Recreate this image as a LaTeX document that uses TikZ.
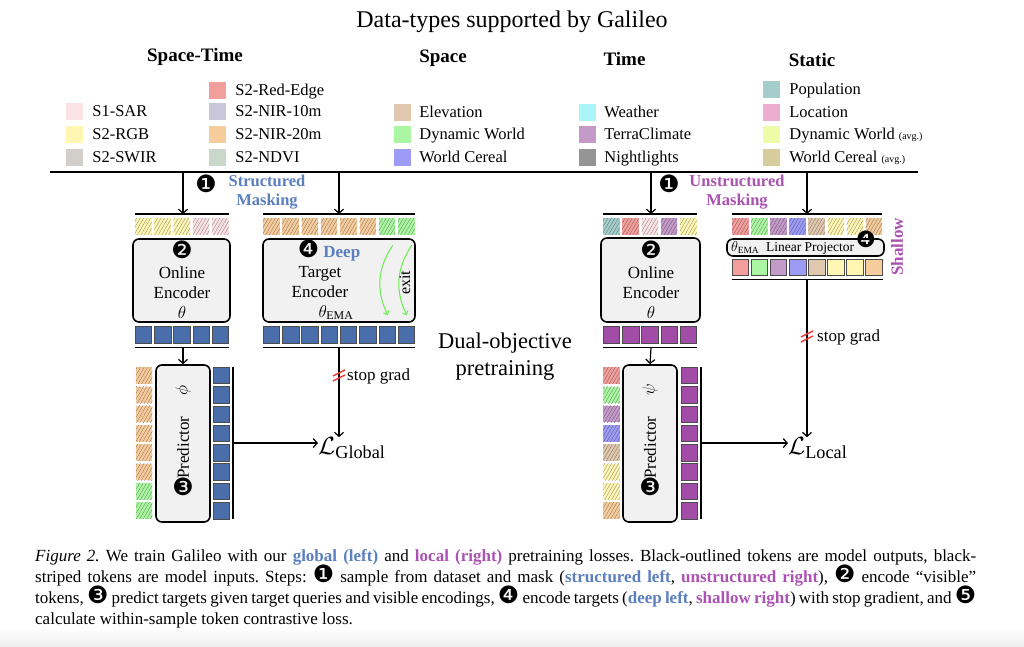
\documentclass[tikz,border=0pt]{standalone}
\usepackage{fontspec}
\usepackage{amsmath}
\setmainfont{Liberation Serif}
\newfontfamily\dingfont[Scale=1.4]{DejaVu Sans}
\usetikzlibrary{positioning,arrows.meta,patterns.meta,calc}

\definecolor{cSAR}{HTML}{FBE2E4}
\definecolor{cRGB}{HTML}{FFF6B4}
\definecolor{cSWIR}{HTML}{D2CECA}
\definecolor{cRED}{HTML}{F29E9C}
\definecolor{cNIRten}{HTML}{C8C6D8}
\definecolor{cNIRtw}{HTML}{F6CC9C}
\definecolor{cNDVI}{HTML}{C9D8CA}
\definecolor{cELEV}{HTML}{E0C8AE}
\definecolor{cDW}{HTML}{AAF6A2}
\definecolor{cWC}{HTML}{9C9CF6}
\definecolor{cWEA}{HTML}{ABF4F8}
\definecolor{cTERRA}{HTML}{C49AC8}
\definecolor{cNIGHT}{HTML}{959595}
\definecolor{cPOP}{HTML}{A5CDCC}
\definecolor{cLOC}{HTML}{ECAED0}
\definecolor{cDWavg}{HTML}{EEFBA8}
\definecolor{cWCavg}{HTML}{D6CC9C}
\definecolor{tokblue}{HTML}{4A6EA9}
\definecolor{tokpurple}{HTML}{A14CA6}
\definecolor{txtblue}{HTML}{5B7FBF}
\definecolor{txtpurple}{HTML}{AC52B2}
\definecolor{boxgray}{HTML}{F1F1F1}
\definecolor{exitgreen}{HTML}{66EE4A}
\definecolor{gradred}{HTML}{EE3B33}

\newcommand{\circnum}[1]{\smash{\dingfont\char\numexpr"2775+#1\relax}}
\newcommand{\globtxt}[1]{\textcolor{txtblue}{\bfseries #1}}
\newcommand{\loctxt}[1]{\textcolor{txtpurple}{\bfseries #1}}
\newcommand{\avgtag}{{\fontsize{10}{12}\selectfont(avg.)}}

\begin{document}
\begin{tikzpicture}[x=1pt, y=-1pt,
    >={Straight Barb[length=4pt,width=9pt]},
    legsq/.style={fill=#1, minimum size=17pt, inner sep=0pt},
    legtxt/.style={font=\fontsize{16.5}{19}\selectfont, inner sep=0pt, text height=11pt, text depth=1pt},
    heading/.style={font=\fontsize{19}{22}\selectfont\bfseries, inner sep=0pt},
    tok/.style={minimum size=16.5pt, inner sep=0pt},
    intok/.style={tok, fill=#1, postaction={pattern={Lines[angle=60,distance=3pt,line width=.4pt]}, pattern color=#1!60!black}},
    outtok/.style={tok, fill=#1, draw=black!70, line width=.6pt},
    encbox/.style={draw, line width=1.6pt, rounded corners=6pt, fill=boxgray, inner sep=0pt},
    enctxt/.style={font=\fontsize{17}{20}\selectfont, align=center, inner sep=0pt},
    masktxt/.style={font=\fontsize{16.5}{18.5}\selectfont\bfseries, align=center, inner sep=0pt},
    sgtxt/.style={font=\fontsize{17}{20}\selectfont, inner sep=0pt},
    losstxt/.style={font=\fontsize{26}{28}\selectfont, inner sep=0pt},
    bar/.style={line width=1.2pt},
    conn/.style={line width=1.2pt, ->},
    stopmark/.style={gradred, line width=1.5pt}]

  \fill[white] (0,0) rectangle (1024,647);
  \useasboundingbox (0,0) rectangle (1024,647);

  % title and data types
  \node[font=\fontsize{24}{28}\selectfont] (title) at (512,22) {Data-types supported by Galileo};
  \node[heading] (hST) at (195,57) {Space-Time};
  \node[heading] (hSp) at (443,58) {Space};
  \node[heading] (hTi) at (624.5,59) {Time};
  \node[heading] (hSt) at (812,60) {Static};

  \foreach \c/\t/\y [count=\i] in {cSAR/S1-SAR/112, cRGB/S2-RGB/135, cSWIR/S2-SWIR/157.5} {
    \node[legsq=\c] (stA\i) at (74.5,\y) {};
    \node[legtxt, right=9pt of stA\i] {\t};
  }
  \foreach \c/\t/\y [count=\i] in {cRED/S2-Red-Edge/90.5, cNIRten/S2-NIR-10m/112, cNIRtw/S2-NIR-20m/135, cNDVI/S2-NDVI/158} {
    \node[legsq=\c] (stB\i) at (217.5,\y) {};
    \node[legtxt, right=9pt of stB\i] {\t};
  }
  \foreach \c/\t/\y [count=\i] in {cELEV/Elevation/112.5, cDW/Dynamic World/135, cWC/World Cereal/157.5} {
    \node[legsq=\c] (sp\i) at (402.5,\y) {};
    \node[legtxt, right=8pt of sp\i] {\t};
  }
  \foreach \c/\t/\y [count=\i] in {cWEA/Weather/112.5, cTERRA/TerraClimate/135, cNIGHT/Nightlights/157.5} {
    \node[legsq=\c] (ti\i) at (587.5,\y) {};
    \node[legtxt, right=8pt of ti\i] {\t};
  }
  \foreach \c/\t/\y [count=\i] in {cPOP/Population/90, cLOC/Location/113, cDWavg/Dynamic World \avgtag/135, cWCavg/World Cereal \avgtag/158} {
    \node[legsq=\c] (sta\i) at (771.5,\y) {};
    \node[legtxt, right=9pt of sta\i] {\t};
  }

  % dataset line and masking
  \coordinate (topW) at (50,172);
  \coordinate (topE) at (918,172);
  \draw[bar] (topW) -- (topE);

  \coordinate (inLtop) at (183,214);
  \coordinate (inTtop) at (339,214);
  \coordinate (inRtop) at (651,214);
  \coordinate (inPtop) at (807,214);
  \foreach \p in {inLtop,inTtop,inRtop,inPtop}
    \draw[conn] (\p |- topW) -- (\p);

  \node[enctxt] (oneL) at (206,193) {\circnum1};
  \node[masktxt, text=txtblue] (maskL) at (267,192) {Structured\\Masking};
  \node[enctxt] (oneR) at (669,193) {\circnum1};
  \node[masktxt, text=txtpurple] (maskR) at (737,192) {Unstructured\\Masking};

  % global (left)
  \foreach \c [count=\i] in {cRGB,cRGB,cRGB,cSAR,cSAR}
    \node[intok=\c] (inL\i) at ({143.25+19.3*(\i-1)},226.5) {};
  \draw[bar] (inL1.west |- inLtop) -- (inL5.east |- inLtop);
  \foreach \c [count=\i] in {cNIRtw,cNIRtw,cNIRtw,cNIRtw,cNIRtw,cNIRtw,cDW,cDW}
    \node[intok=\c] (inT\i) at ({271.25+19.3*(\i-1)},226.5) {};
  \draw[bar] (inT1.west |- inTtop) -- (inT8.east |- inTtop);

  \node[encbox, minimum width=97pt, minimum height=83pt] (onlL) at (181.5,280.5) {};
  \node[enctxt, anchor=base] at (182,318) {\circnum2\\Online\\Encoder\\$\theta$};
  \node[encbox, minimum width=152pt, minimum height=83pt] (tgtL) at (339,280.5) {};
  \node[enctxt, anchor=base] at (320,317) {\hspace*{18pt}\circnum4 \textcolor{txtblue}{\bfseries Deep}\\Target\\Encoder\\\hspace*{32pt}$\theta_{\text{EMA}}$};
  \draw[exitgreen, line width=1pt, -{Straight Barb[length=3pt,width=6pt]}]
    ($(tgtL.north east)+(-23,7)$) to[bend right=30] ($(tgtL.north east)+(-28,77)$);
  \draw[exitgreen, line width=1pt, -{Straight Barb[length=3pt,width=6pt]}]
    ($(tgtL.north east)+(-4,7)$) to[bend right=30] ($(tgtL.north east)+(-9,77)$);
  \node[font=\fontsize{16}{18}\selectfont, rotate=90, inner sep=0pt] (exitL) at (405,283) {exit};

  \foreach \i in {1,...,5}
    \node[outtok=tokblue] (outL\i) at ({143.25+19.3*(\i-1)},335) {};
  \foreach \i in {1,...,8}
    \node[outtok=tokblue] (outT\i) at ({271.25+19.3*(\i-1)},335) {};
  \coordinate (outLbot) at (183,347.5);
  \coordinate (outTbot) at (339,347.5);
  \draw[bar] (outL1.west |- outLbot) -- (outL5.east |- outLbot);
  \draw[bar] (outT1.west |- outTbot) -- (outT8.east |- outTbot);

  \node[encbox, minimum width=54pt, minimum height=157pt] (predL) at (183,443.5) {};
  \draw[conn] (outLbot) -- (predL.north);
  \node[enctxt, rotate=90] at (183,447.5) {Predictor};
  \node[enctxt, rotate=90] at (183,390) {$\phi$};
  \node[enctxt] at (183,495) {\circnum3};
  \foreach \c [count=\i] in {cNIRtw,cNIRtw,cNIRtw,cNIRtw,cNIRtw,cNIRtw,cDW,cDW}
    \node[intok=\c] (piL\i) at (144,{375.5+19.3*(\i-1)}) {};
  \foreach \i in {1,...,8}
    \node[outtok=tokblue] (poL\i) at (221.5,{375.5+19.3*(\i-1)}) {};
  \draw[bar] ($(poL1.north east)+(3,0)$) -- ($(poL8.south east)+(3,0)$);
  \coordinate (predLout) at ($(poL1.north east)!0.5!(poL8.south east)+(3,0)$);

  \node[losstxt, anchor=west] (lossG) at (318,448) {$\mathcal{L}_{\text{Global}}$};
  \draw[conn] (predLout) -- (predLout -| lossG.west);
  \draw[conn] (outTbot) -- (outTbot |- lossG.north);
  \coordinate (sgL) at (339,376);
  \draw[stopmark] ($(sgL)+(-6,0)$) -- ($(sgL)+(6,-6)$);
  \draw[stopmark] ($(sgL)+(-6,5)$) -- ($(sgL)+(6,-1)$);
  \node[sgtxt, right=8pt of sgL] {stop grad};

  \node[font=\fontsize{22.5}{27}\selectfont, align=center, inner sep=0pt] (dual) at (505,357) {Dual-objective\\pretraining};

  % local (right)
  \foreach \c [count=\i] in {cPOP,cRED,cSAR,cTERRA,cRGB}
    \node[intok=\c] (inR\i) at ({611.25+19.3*(\i-1)},226.5) {};
  \draw[bar] (inR1.west |- inRtop) -- (inR5.east |- inRtop);
  \foreach \c [count=\i] in {cRED,cDW,cTERRA,cWC,cELEV,cRGB,cRGB,cNIRtw}
    \node[intok=\c] (inP\i) at ({740.25+19.1*(\i-1)},226.5) {};
  \draw[bar] (inP1.west |- inPtop) -- (inP8.east |- inPtop);

  \node[encbox, minimum width=99pt, minimum height=84pt] (onlR) at (650.5,280) {};
  \node[enctxt, anchor=base] at (651,318) {\circnum2\\Online\\Encoder\\$\theta$};
  \foreach \i in {1,...,5}
    \node[outtok=tokpurple] (outR\i) at ({611.25+19.3*(\i-1)},335) {};
  \coordinate (outRbot) at (651,347.5);
  \draw[bar] (outR1.west |- outRbot) -- (outR5.east |- outRbot);

  \node[encbox, minimum width=157pt, minimum height=17pt] (proj) at (805.5,247.5) {};
  \node[font=\fontsize{13.5}{15}\selectfont, inner sep=0pt, anchor=west] (projtxt) at (731,248) {$\theta_{\text{EMA}}$\ \ Linear Projector};
  \node[font=\fontsize{16}{18}\selectfont, inner sep=0pt] (fourR) at (866,247.5) {\circnum4};
  \node[font=\fontsize{17}{20}\selectfont\bfseries, text=txtpurple, rotate=90, inner sep=0pt] (shallow) at (897,247) {Shallow};
  \foreach \c [count=\i] in {cRED,cDW,cTERRA,cWC,cELEV,cRGB,cRGB,cNIRtw}
    \node[outtok=\c] (outP\i) at ({740.25+19.1*(\i-1)},267.5) {};
  \coordinate (outPbot) at (807,279.5);
  \draw[bar] (outP1.west |- outPbot) -- (outP8.east |- outPbot);

  \node[encbox, minimum width=54pt, minimum height=157pt] (predR) at (650,443.5) {};
  \draw[conn] (outRbot) -- (predR.north);
  \node[enctxt, rotate=90] at (650,447.5) {Predictor};
  \node[enctxt, rotate=90] at (650,390) {$\psi$};
  \node[enctxt] at (650,495) {\circnum3};
  \foreach \c [count=\i] in {cRED,cDW,cTERRA,cWC,cELEV,cRGB,cRGB,cNIRtw}
    \node[intok=\c] (piR\i) at (611.5,{375.5+19.3*(\i-1)}) {};
  \foreach \i in {1,...,8}
    \node[outtok=tokpurple] (poR\i) at (689.5,{375.5+19.3*(\i-1)}) {};
  \draw[bar] ($(poR1.north east)+(3,0)$) -- ($(poR8.south east)+(3,0)$);
  \coordinate (predRout) at ($(poR1.north east)!0.5!(poR8.south east)+(3,0)$);

  \node[losstxt, anchor=west] (lossL) at (788,448) {$\mathcal{L}_{\text{Local}}$};
  \draw[conn] (predRout) -- (predRout -| lossL.west);
  \draw[conn] (outPbot) -- (outPbot |- lossL.north);
  \coordinate (sgR) at (807,337);
  \draw[stopmark] ($(sgR)+(-6,0)$) -- ($(sgR)+(6,-6)$);
  \draw[stopmark] ($(sgR)+(-6,5)$) -- ($(sgR)+(6,-1)$);
  \node[sgtxt, right=10pt of sgR] {stop grad};

  % caption
  \shade[top color=white, bottom color=black!7] (0,628) rectangle (1024,647);
  \node[anchor=north west, text width=941pt, align=justify, inner sep=0pt,
        font=\fontsize{17}{21}\selectfont\frenchspacing] (caption) at (35,549)
  {\textit{Figure 2.} We train Galileo with our \globtxt{global (left)} and \loctxt{local (right)} pretraining losses. Black-outlined tokens are model outputs, black-\linebreak
   striped tokens are model inputs. Steps: \circnum1 sample from dataset and mask (\globtxt{structured left}, \loctxt{unstructured right}), \circnum2 encode ``visible''\linebreak
   tokens, \circnum3 predict targets given target queries and visible encodings, \circnum4 encode targets (\globtxt{deep left}, \loctxt{shallow right}) with stop gradient, and \circnum5\linebreak
   calculate within-sample token contrastive loss.};
\end{tikzpicture}
\end{document}
